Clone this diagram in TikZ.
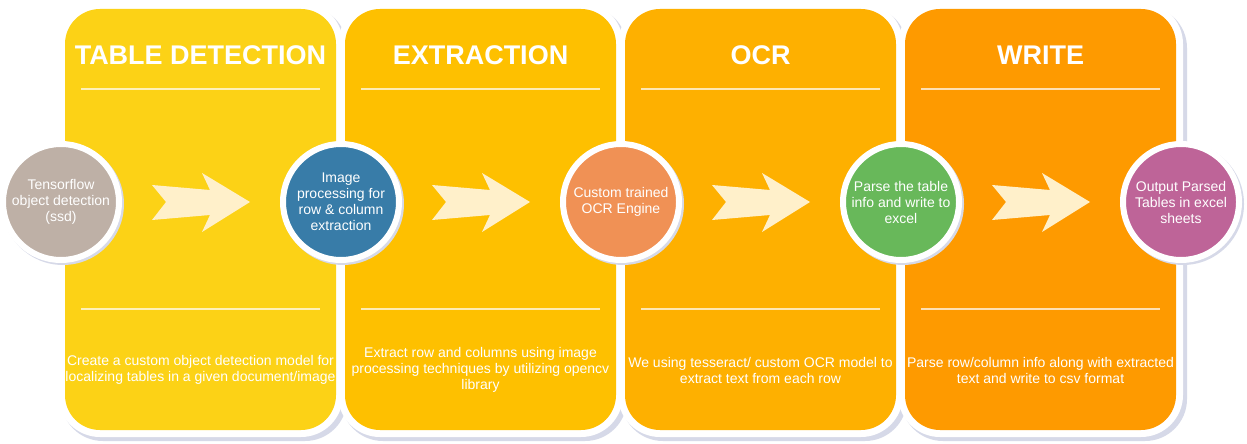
\documentclass[tikz,border=0pt]{standalone}
\usepackage{fontspec}
\setmainfont{Liberation Sans}
\usetikzlibrary{calc}
\definecolor{pA}{RGB}{252,210,22}
\definecolor{pB}{RGB}{254,192,0}
\definecolor{pC}{RGB}{254,176,0}
\definecolor{pD}{RGB}{254,154,0}
\definecolor{shadowc}{RGB}{214,217,232}
\definecolor{arrowc}{RGB}{255,240,202}
\definecolor{cGrey}{RGB}{190,176,166}
\definecolor{cBlue}{RGB}{56,124,168}
\definecolor{cOrange}{RGB}{240,145,85}
\definecolor{cGreen}{RGB}{104,184,90}
\definecolor{cPurple}{RGB}{190,100,152}
\tikzset{
  stepcircle/.style={circle, minimum size=116pt, inner sep=0pt, draw=white, line width=6pt,
    text=white, align=center, font=\fontsize{14}{16}\selectfont},
  paneltitle/.style={anchor=base, text=white, font=\fontsize{27}{30}\selectfont\bfseries, inner sep=0pt},
  paneltext/.style={text=white, align=center, font=\fontsize{14}{16}\selectfont, inner sep=0pt},
  hline/.style={draw=white, draw opacity=0.7, line width=1.6pt},
  pics/blockarrow/.style={code={
    \fill[arrowc] (-49,-17) -- (-35,0) -- (-49,18) -- (9,13) -- (1,30) -- (49,0) -- (1,-29) -- (9,-12) -- cycle;
  }}
}
\begin{document}
\begin{tikzpicture}[x=1pt,y=-1pt]
\useasboundingbox (0,0) rectangle (1247,444);
\fill[white] (0,0) rectangle (1247,444);
% panels
\foreach \i/\c in {0/pA,1/pB,2/pC,3/pD}{
  \pgfmathsetmacro\xl{65+280*\i}
  \fill[shadowc, rounded corners=42pt] (\xl-4,6) rectangle (\xl+282,441);
  \fill[white, rounded corners=42pt] (\xl-7,2) rectangle (\xl+278,437);
  \fill[\c, rounded corners=35pt] (\xl,9) rectangle (\xl+271,430);
  \draw[hline] (\xl+16,89) -- (\xl+255,89);
  \draw[hline] (\xl+16,309) -- (\xl+255,309);
}
% titles
\node[paneltitle] (t1) at (200.5,64) {TABLE DETECTION};
\node[paneltitle] (t2) at (480.5,64) {EXTRACTION};
\node[paneltitle] (t3) at (760.5,64) {OCR};
\node[paneltitle] (t4) at (1040.5,64) {WRITE};
% bottom texts
\node[paneltext] (d1) at (200.5,370) {Create a custom object detection model for\\localizing tables in a given document/image};
\node[paneltext] (d2) at (480.5,370) {Extract row and columns using image\\processing techniques by utilizing opencv\\library};
\node[paneltext] (d3) at (760.5,370) {We using tesseract/ custom OCR model to\\extract text from each row};
\node[paneltext] (d4) at (1040.5,370) {Parse row/column info along with extracted\\text and write to csv format};
% circle shadows
\foreach \x in {61,341,621,901,1181}{
  \fill[shadowc] (\x+2,204) circle[radius=61pt];
}
% circles
\node[stepcircle, fill=cGrey] (c1) at (61,202) {Tensorflow\\object detection\\(ssd)};
\node[stepcircle, fill=cBlue] (c2) at (341,202) {Image\\processing for\\row \& column\\extraction};
\node[stepcircle, fill=cOrange] (c3) at (621,202) {Custom trained\\OCR Engine};
\node[stepcircle, fill=cGreen] (c4) at (901,202) {Parse the table\\info and write to\\excel};
\node[stepcircle, fill=cPurple] (c5) at (1181,202) {Output Parsed\\Tables in excel\\sheets};
% arrows
\pic at ($(c1)!0.5!(c2)$) {blockarrow};
\pic at ($(c2)!0.5!(c3)$) {blockarrow};
\pic at ($(c3)!0.5!(c4)$) {blockarrow};
\pic at ($(c4)!0.5!(c5)$) {blockarrow};
\end{tikzpicture}
\end{document}
